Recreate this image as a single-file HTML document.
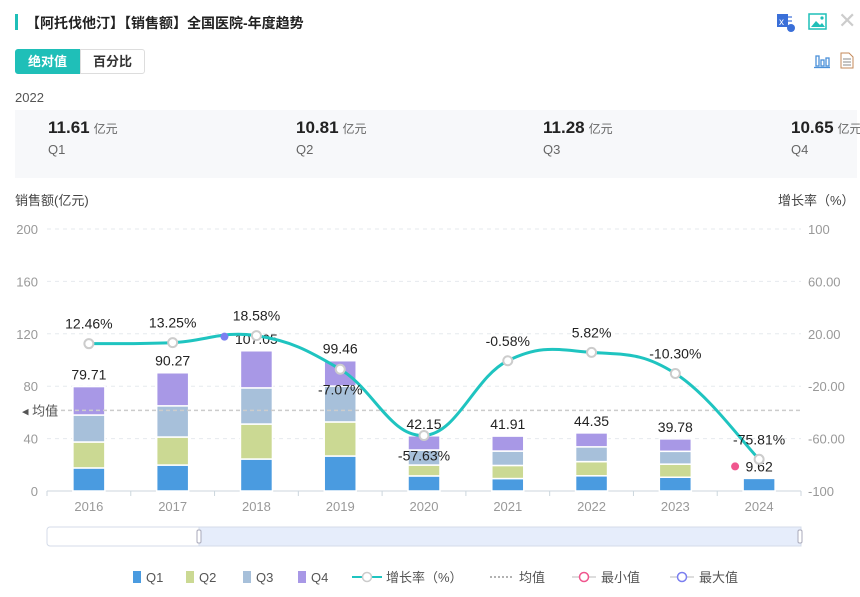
<!DOCTYPE html>
<html><head><meta charset="utf-8">
<style>
*{margin:0;padding:0;box-sizing:border-box}
body{width:860px;height:597px;background:#fff;font-family:"Liberation Sans","Noto Sans CJK SC",sans-serif;position:relative;overflow:hidden;color:#333}
.abs{position:absolute}
.btn{position:absolute;top:49px;height:25px;width:65px;font-size:13px;line-height:23px;text-align:center;border:1px solid #ddd}
.kpi{position:absolute;top:118px}
.kpi b{font-size:17px;color:#222}
.kpi span{font-size:12px;color:#666;margin-left:4px}
.kpi div{font-size:13px;color:#666;margin-top:4px}
.leg{position:absolute;top:570px;font-size:13px;color:#555;line-height:16px}
</style></head><body>
<div class="abs" style="left:15px;top:14px;width:3px;height:16px;background:#1fbfb8"></div>
<div class="abs" style="left:26px;top:13px;font-size:14px;font-weight:bold;color:#222">【阿托伐他汀】【销售额】全国医院-年度趋势</div>
<svg class="abs" style="left:775px;top:12px" width="20" height="20"><rect x="2" y="2" width="11" height="13" fill="#3a6fd8"/><text x="4" y="13" font-size="10" fill="#fff" font-family="Liberation Sans">x</text><rect x="13" y="4" width="4" height="2" fill="#8aa8e8"/><rect x="13" y="8" width="4" height="2" fill="#8aa8e8"/><circle cx="16" cy="16" r="4" fill="#3a6fd8"/></svg>
<svg class="abs" style="left:808px;top:13px" width="20" height="18"><rect x="1" y="1" width="17" height="15" fill="none" stroke="#1fbfb8" stroke-width="1.5"/><path d="M3 14 L8 8 L12 12 L14 10 L17 14Z" fill="#1fbfb8"/><circle cx="14" cy="5" r="1.6" fill="#1fbfb8"/></svg>
<div class="abs" style="left:838px;top:8px;font-size:22px;color:#ccc">✕</div>
<div class="btn" style="left:15px;background:#1fbfb8;color:#fff;border-color:#1fbfb8;border-radius:3px 0 0 3px;font-weight:bold">绝对值</div>
<div class="btn" style="left:80px;color:#333;border-radius:0 3px 3px 0;font-weight:bold">百分比</div>
<svg class="abs" style="left:814px;top:53px" width="16" height="16"><g fill="none" stroke="#4a90d9" stroke-width="1.3"><rect x="2" y="3" width="3" height="10"/><rect x="7" y="7" width="3" height="6"/><rect x="12" y="5" width="3" height="8"/><line x1="0" y1="14.5" x2="16" y2="14.5"/></g></svg>
<svg class="abs" style="left:840px;top:52px" width="14" height="17"><path d="M1 1 H9 L13 5 V16 H1Z" fill="#fff" stroke="#c48a5a"/><g stroke="#888"><line x1="3" y1="7" x2="11" y2="7"/><line x1="3" y1="10" x2="11" y2="10"/><line x1="3" y1="13" x2="11" y2="13"/></g></svg>
<div class="abs" style="left:15px;top:90px;font-size:13px;color:#555">2022</div>
<div class="abs" style="left:15px;top:110px;width:842px;height:68px;background:#f7f8fa"></div>
<div class="kpi" style="left:48px"><b>11.61</b><span>亿元</span><div>Q1</div></div>
<div class="kpi" style="left:296px"><b>10.81</b><span>亿元</span><div>Q2</div></div>
<div class="kpi" style="left:543px"><b>11.28</b><span>亿元</span><div>Q3</div></div>
<div class="kpi" style="left:791px;white-space:nowrap"><b>10.65</b><span>亿元</span><div>Q4</div></div>
<div class="abs" style="left:15px;top:190px;font-size:13px;color:#444">销售额(亿元)</div>
<div class="abs" style="left:778px;top:190px;font-size:13px;color:#444">增长率（%）</div>
<svg id="chart" class="abs" style="left:0;top:0" width="860" height="597"></svg>
<div class="leg" style="left:0;width:860px">
<span class="abs" style="left:133px;white-space:nowrap"><i style="display:inline-block;width:8px;height:12px;background:#4a9be0;vertical-align:-1px;margin-right:5px"></i>Q1</span>
<span class="abs" style="left:186px;white-space:nowrap"><i style="display:inline-block;width:8px;height:12px;background:#cbd993;vertical-align:-1px;margin-right:5px"></i>Q2</span>
<span class="abs" style="left:243px;white-space:nowrap"><i style="display:inline-block;width:8px;height:12px;background:#a7c0da;vertical-align:-1px;margin-right:5px"></i>Q3</span>
<span class="abs" style="left:298px;white-space:nowrap"><i style="display:inline-block;width:8px;height:12px;background:#a898e6;vertical-align:-1px;margin-right:5px"></i>Q4</span>
<span class="abs" style="left:352px;white-space:nowrap"><svg width="30" height="12" style="vertical-align:-1px;margin-right:4px"><line x1="0" y1="6" x2="30" y2="6" stroke="#1fc4c0" stroke-width="2"/><circle cx="15" cy="6" r="4.5" fill="#fff" stroke="#ccc" stroke-width="1.5"/></svg>增长率（%）</span>
<span class="abs" style="left:490px;white-space:nowrap"><svg width="24" height="12" style="vertical-align:-1px;margin-right:5px"><line x1="0" y1="6" x2="24" y2="6" stroke="#999" stroke-width="1.5" stroke-dasharray="2,2"/></svg>均值</span>
<span class="abs" style="left:572px;white-space:nowrap"><svg width="24" height="12" style="vertical-align:-1px;margin-right:5px"><line x1="0" y1="6" x2="24" y2="6" stroke="#ddd" stroke-width="2"/><circle cx="12" cy="6" r="4.5" fill="#fff" stroke="#f0568e" stroke-width="1.5"/></svg>最小值</span>
<span class="abs" style="left:670px;white-space:nowrap"><svg width="24" height="12" style="vertical-align:-1px;margin-right:5px"><line x1="0" y1="6" x2="24" y2="6" stroke="#ddd" stroke-width="2"/><circle cx="12" cy="6" r="4.5" fill="#fff" stroke="#7b7ff0" stroke-width="1.5"/></svg>最大值</span>
</div>
<script>
const categories=["2016","2017","2018","2019","2020","2021","2022","2023","2024"];
const q1=[17.6,19.8,24.4,26.7,11.5,9.5,11.61,10.5,9.62];
const q2=[19.8,21.4,26.7,26.0,8.3,10.0,10.81,10.0,0];
const q3=[20.6,23.8,27.6,27.4,11.5,11.0,11.28,9.8,0];
const q4=[21.71,25.27,28.35,19.36,10.85,11.41,10.65,9.48,0];
const totals=[79.71,90.27,107.05,99.46,42.15,41.91,44.35,39.78,9.62];
const growth=[12.46,13.25,18.58,-7.07,-57.63,-0.58,5.82,-10.30,-75.81];
const leftTicks=[0,40,80,120,160,200];
const rightTicks=[-100,-60,-20,20,60,100];
const rightTickLabels=["-100","-60.00","-20.00","20.00","60.00","100"];
const svg=document.getElementById('chart');const NS='http://www.w3.org/2000/svg';
const X0=47,X1=801,Y0=491,Y1=229;
const bw=(X1-X0)/categories.length;
const xc=i=>X0+bw*(i+0.5);
const yl=v=>Y0-(v/200)*(Y0-Y1);
const yr=v=>Y0-((v+100)/200)*(Y0-Y1);
function mk(t,a,p){const e=document.createElementNS(NS,t);for(const k in a)e.setAttribute(k,a[k]);(p||svg).appendChild(e);return e;}
function txt(x,y,s,a){const e=mk('text',Object.assign({x:x,y:y,'font-family':'Liberation Sans, Noto Sans CJK SC, sans-serif'},a));e.textContent=s;return e;}
leftTicks.forEach((t,i)=>{
 const g=mk('line',{x1:X0,x2:X1,y1:yl(t),y2:yl(t),stroke:i==0?'#ccd6dd':'#e6eaee','stroke-dasharray':i==0?'':'4,4'});
 
 const l=txt(38,yl(t)+5,String(t),{'font-size':13,fill:'#999','text-anchor':'end'});
 
});
rightTicks.forEach((t,i)=>{
 const l=txt(808,yr(t)+5,rightTickLabels[i],{'font-size':13,fill:'#999'});
 
});
for(let i=0;i<=categories.length;i++){const t=mk('line',{x1:X0+bw*i,x2:X0+bw*i,y1:Y0,y2:Y0+5,stroke:'#ccd6dd'});}
const colors=['#4a9be0','#cbd993','#a7c0da','#a898e6'];
const series=[q1,q2,q3,q4];
categories.forEach((c,i)=>{
 const l=txt(xc(i),511,c,{'font-size':13,fill:'#999','text-anchor':'middle'});
 
 let acc=0;
 series.forEach((s,k)=>{ if(s[i]<=0)return;
  const r=mk('rect',{x:xc(i)-16,width:32,y:yl(acc+s[i]),height:yl(acc)-yl(acc+s[i]),fill:colors[k],stroke:'#fff','stroke-width':1.5});
  
  acc+=s[i];});
 const v=txt(xc(i),yl(totals[i])-7,totals[i].toFixed(2),{'font-size':14,fill:'#222','text-anchor':'middle'});
 
});
const mean=totals.reduce((a,b)=>a+b,0)/totals.length;
const ml=mk('line',{x1:X0,x2:X1,y1:yl(mean),y2:yl(mean),stroke:'#ccc','stroke-dasharray':'4,3','stroke-width':1.5});

const mt=txt(22,yl(mean)+5,'◂ 均值',{'font-size':13,fill:'#555'});

const pts=growth.map((g,i)=>[xc(i),yr(g)]);
let d='M'+pts[0][0]+','+pts[0][1];
for(let i=0;i<pts.length-1;i++){const p0=pts[Math.max(0,i-1)],p1=pts[i],p2=pts[i+1],p3=pts[Math.min(pts.length-1,i+2)];const s=0.2;
 d+=' C'+(p1[0]+(p2[0]-p0[0])*s)+','+(p1[1]+(p2[1]-p0[1])*s)+' '+(p2[0]-(p3[0]-p1[0])*s)+','+(p2[1]-(p3[1]-p1[1])*s)+' '+p2[0]+','+p2[1];}
const gl=mk('path',{d:d,fill:'none',stroke:'#1fc4c0','stroke-width':3});

const below=[3,4];
pts.forEach((p,i)=>{
 const c=mk('circle',{cx:p[0],cy:p[1],r:4.5,fill:'#fff',stroke:'#ccc','stroke-width':2});
 
 const dy=below.includes(i)?25:-15;
 const t=txt(p[0],p[1]+dy,growth[i].toFixed(2)+'%',{'font-size':14,fill:'#222','text-anchor':'middle'});
 
});
const imax=totals.indexOf(Math.max(...totals)),imin=totals.indexOf(Math.min(...totals));
const mx=mk('circle',{cx:xc(imax)-32,cy:yr(growth[imax])+1,r:4,fill:'#7b7ff0'});

const mn=mk('circle',{cx:xc(imin)-24,cy:yl(totals[imin])-12,r:4,fill:'#f0568e'});

const sb=mk('rect',{x:X0,y:527,width:X1-X0,height:19,fill:'#fff',stroke:'#d4dbe8',rx:3});

const ss=mk('rect',{x:199,y:527,width:X1-199,height:19,fill:'#e6edfb',stroke:'#d4dbe8'});

[199,X1-1].forEach(x=>{const h=mk('rect',{x:x-2,y:530,width:4,height:13,fill:'#fff',stroke:'#aab',rx:1.5});});
</script>
</body></html>
